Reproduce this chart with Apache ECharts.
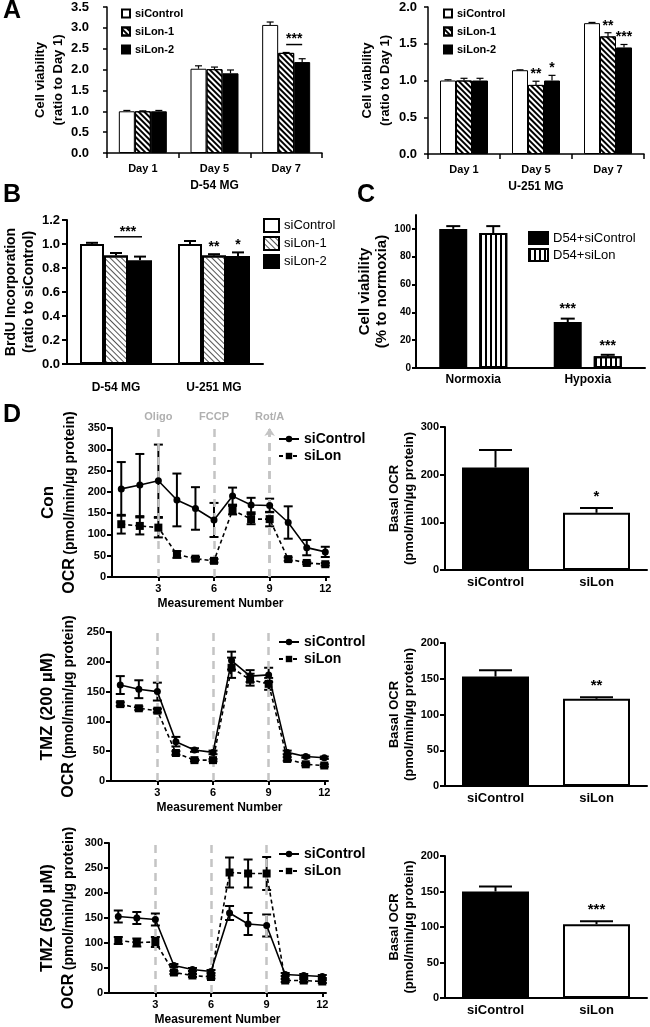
<!DOCTYPE html>
<html><head><meta charset="utf-8">
<script src="https://cdn.jsdelivr.net/npm/echarts@6/dist/echarts.min.js"></script>
<style>html,body{margin:0;padding:0;background:#fff}#c{width:650px;height:1027px}</style>
</head><body><div id="c"></div><script>
// ---------------- DATA ----------------
// Panel A
const daysA = ['Day 1', 'Day 5', 'Day 7'];
const d54Ctrl = [1.00, 2.02, 3.07];
const d54CtrlErr = [0.02, 0.07, 0.07];
const d54Lon1 = [1.00, 2.01, 2.40];
const d54Lon1Err = [0.01, 0.05, 0.01];
const d54Lon2 = [1.00, 1.91, 2.18];
const d54Lon2Err = [0.02, 0.08, 0.08];
const d54Bracket = [2, 2.6, '***'];          // category, level, label
const u251Ctrl = [1.00, 1.14, 1.78];
const u251CtrlErr = [0.01, 0.005, 0.01];
const u251Lon1 = [1.00, 0.94, 1.60];
const u251Lon1Err = [0.03, 0.05, 0.05];
const u251Lon1Sig = ['', '**', '**'];
const u251Lon2 = [1.00, 1.00, 1.45];
const u251Lon2Err = [0.03, 0.07, 0.04];
const u251Lon2Sig = ['', '*', '***'];
// Panel B
const cellsB = ['D-54 MG', 'U-251 MG'];
const brduCtrl = [1.00, 1.00];
const brduCtrlErr = [0.01, 0.025];
const brduLon1 = [0.905, 0.905];
const brduLon1Err = [0.02, 0.01];
const brduLon1Sig = ['', '**'];
const brduLon2 = [0.865, 0.90];
const brduLon2Err = [0.03, 0.03];
const brduLon2Sig = ['', '*'];
const brduBracket = [0, 1.06, '***'];
// Panel C
const condC = ['Normoxia', 'Hypoxia'];
const hypCtrl = [100, 33];
const hypCtrlErr = [2, 2.5];
const hypCtrlSig = ['', '***'];
const hypLon = [97, 8.5];
const hypLonErr = [5, 1];
const hypLonSig = ['', '***'];
// Panel D
const measure = [1, 2, 3, 4, 5, 6, 7, 8, 9, 10, 11, 12];
const injX = [3, 6, 9];
const injNames = ['Oligo', 'FCCP', 'Rot/A'];
const xTicksD = [3, 6, 9, 12];
const conCtrl = [207, 216, 226, 181, 161, 134, 190, 169, 168, 128, 69, 59];
const conCtrlErr = [63, 73, 85, 62, 50, 40, 20, 17, 16, 38, 18, 12];
const conLon = [124, 120, 116, 53, 43, 38, 157, 136, 136, 42, 33, 30];
const conLonErr = [22, 20, 23, 8, 4, 4, 10, 12, 17, 4, 3, 3];
const t200Ctrl = [161, 154, 150, 66, 52, 48, 202, 176, 178, 48, 41, 39];
const t200CtrlErr = [15, 15, 15, 8, 3, 3, 15, 10, 12, 3, 2, 2];
const t200Lon = [129, 122, 118, 47, 35, 35, 190, 170, 163, 37, 28, 26];
const t200LonErr = [3, 3, 3, 3, 2, 2, 17, 10, 10, 3, 2, 2];
const t500Ctrl = [153, 150, 147, 55, 47, 43, 160, 138, 135, 37, 35, 33];
const t500CtrlErr = [12, 12, 12, 3, 3, 3, 14, 22, 22, 3, 3, 3];
const t500Lon = [105, 101, 102, 41, 35, 32, 241, 239, 239, 25, 25, 23];
const t500LonErr = [7, 8, 10, 3, 3, 3, 30, 28, 33, 3, 3, 3];
const basalCats = ['siControl', 'siLon'];
const basalCon = [215, 120];
const basalConErr = [37, 10];
const basalConSig = ['', '*'];
const basalT200 = [153, 122];
const basalT200Err = [9, 2];
const basalT200Sig = ['', '**'];
const basalT500 = [150, 104];
const basalT500Err = [7, 4];
const basalT500Sig = ['', '***'];

// ---------------- HELPERS ----------------
const F = '"Liberation Sans", Arial, Helvetica, sans-serif';
const B = {fontWeight: 'bold', fontFamily: F, color: '#000'};
const strip = n => n.split('|')[1];
const HATCH_A = {symbol: 'rect', symbolSize: 1, color: '#000', dashArrayX: [1, 0], dashArrayY: [1.4, 1.6], rotation: Math.PI / 4};
const HATCH_B = {symbol: 'rect', symbolSize: 1, color: '#555', dashArrayX: [1, 0], dashArrayY: [1, 2.2], rotation: Math.PI / 4};
const VSTRIPE = {symbol: 'rect', symbolSize: 1, color: '#000', dashArrayX: [2, 2.2], dashArrayY: [1, 0], rotation: 0};

function barErr(g, vals, errs, off, cap, lw, sigs, sigSize, sigGap) {
  return {
    type: 'custom', xAxisIndex: g, yAxisIndex: g, z: 10, silent: true,
    data: vals.map((v, i) => [i, v, errs[i]]),
    encode: {x: 0, y: 1},
    renderItem(params, api) {
      const i = api.value(0), v = api.value(1), e = api.value(2);
      const b = api.coord([i, v]), t = api.coord([i, v + e]);
      const x = b[0] + off;
      const ch = [];
      if (e > 0) {
        ch.push({type: 'line', shape: {x1: x, y1: b[1], x2: x, y2: t[1]}, style: {stroke: '#000', lineWidth: lw}});
        ch.push({type: 'line', shape: {x1: x - cap / 2, y1: t[1], x2: x + cap / 2, y2: t[1]}, style: {stroke: '#000', lineWidth: lw}});
      }
      const s = sigs ? sigs[params.dataIndex] : '';
      if (s) ch.push({type: 'text', x: x, y: t[1] - sigGap, style: {text: s, fontSize: sigSize, fontWeight: 'bold', fontFamily: F, fill: '#000', align: 'center', verticalAlign: 'bottom'}});
      return {type: 'group', children: ch};
    }
  };
}
function bracket(g, br, off1, off2, lw, size) {
  return {
    type: 'custom', xAxisIndex: g, yAxisIndex: g, z: 10, silent: true,
    data: [[br[0], br[1]]], encode: {x: 0, y: 1},
    renderItem(params, api) {
      const p = api.coord([api.value(0), api.value(1)]);
      return {type: 'group', children: [
        {type: 'line', shape: {x1: p[0] + off1, y1: p[1], x2: p[0] + off2, y2: p[1]}, style: {stroke: '#000', lineWidth: lw}},
        {type: 'text', x: p[0] + (off1 + off2) / 2, y: p[1] + 2, style: {text: br[2], fontSize: size, fontWeight: 'bold', fontFamily: F, fill: '#000', align: 'center', verticalAlign: 'bottom'}}
      ]};
    }
  };
}
function lineErr(g, vals, errs, cap) {
  return {
    type: 'custom', xAxisIndex: g, yAxisIndex: g, z: 4, silent: true,
    data: measure.map((m, i) => [m, vals[i], errs[i]]), encode: {x: 0, y: 1},
    renderItem(params, api) {
      const x = api.value(0), v = api.value(1), e = api.value(2);
      const lo = api.coord([x, v - e]), hi = api.coord([x, v + e]);
      const s = {stroke: '#000', lineWidth: 2};
      return {type: 'group', children: [
        {type: 'line', shape: {x1: lo[0], y1: lo[1], x2: hi[0], y2: hi[1]}, style: s},
        {type: 'line', shape: {x1: lo[0] - cap / 2, y1: lo[1], x2: lo[0] + cap / 2, y2: lo[1]}, style: s},
        {type: 'line', shape: {x1: hi[0] - cap / 2, y1: hi[1], x2: hi[0] + cap / 2, y2: hi[1]}, style: s}
      ]};
    }
  };
}
function lineSeries(g, name, vals, dashed, mark) {
  const s = {
    type: 'line', name: name, xAxisIndex: g, yAxisIndex: g, z: 5,
    data: measure.map((m, i) => [m, vals[i]]),
    symbol: dashed ? 'rect' : 'circle', symbolSize: dashed ? 8 : 7,
    itemStyle: {color: '#000'},
    lineStyle: {color: '#000', width: 1.6, type: dashed ? [4, 3] : 'solid'}
  };
  if (mark) s.markLine = mark;
  return s;
}
const dashLine = {color: '#c4c4c4', type: [8, 6], width: 2.5};
function injMark(withLabels) {
  return {
    silent: true, symbol: ['none', 'none'], lineStyle: dashLine,
    label: withLabels ? {show: true, position: 'end', formatter: '{b}', color: '#b0b0b0', fontSize: 11, fontWeight: 'bold', fontFamily: F, distance: 6} : {show: false},
    data: injX.map((x, i) => ({xAxis: x, name: injNames[i]}))
  };
}
function catX(g, data, o) {
  return Object.assign({
    type: 'category', gridIndex: g, data: data,
    axisLine: {lineStyle: {color: '#000', width: 2}},
    axisTick: {show: false},
    axisLabel: Object.assign({fontSize: 13, margin: 6}, B)
  }, o);
}
function valY(g, max, interval, o) {
  return Object.assign({
    type: 'value', gridIndex: g, min: 0, max: max, interval: interval,
    splitLine: {show: false},
    axisLine: {show: true, lineStyle: {color: '#000', width: 2}},
    axisTick: {show: true, length: 5, lineStyle: {color: '#000', width: 2}},
    axisLabel: Object.assign({fontSize: 11, margin: 6}, B),
    nameLocation: 'middle', nameRotate: 90
  }, o);
}
function lineX(g) {
  return {
    type: 'value', gridIndex: g, min: 0.5, max: 12.2,
    splitLine: {show: false},
    axisLine: {lineStyle: {color: '#000', width: 2}},
    axisTick: {show: true, length: 4, customValues: xTicksD, lineStyle: {color: '#000', width: 2}},
    axisLabel: Object.assign({fontSize: 11, margin: 6, customValues: xTicksD}, B),
    name: 'Measurement Number', nameLocation: 'middle', nameGap: 21,
    nameTextStyle: Object.assign({fontSize: 12}, B)
  };
}
const ocrName = t => '{t|' + t + '}\n{o|OCR} {p|(pmol/min/µg protein)}';
const ocrRich = {rich: {
  t: {fontSize: 17, fontWeight: 'bold', fontFamily: F, lineHeight: 26, color: '#000'},
  o: {fontSize: 16, fontWeight: 'bold', fontFamily: F, lineHeight: 18, color: '#000'},
  p: {fontSize: 14, fontWeight: 'bold', fontFamily: F, lineHeight: 18, color: '#000'}
}};
const basalNameStyle = Object.assign({fontSize: 13, lineHeight: 15}, B);
function basalBars(g, name, vals) {
  return {
    type: 'bar', name: name, xAxisIndex: g, yAxisIndex: g, barWidth: 67,
    data: vals.map((v, i) => ({value: v, itemStyle: {color: i === 0 ? '#000' : '#fff', borderColor: '#000', borderWidth: 2}}))
  };
}
function dLegend(pfx, top) {
  return {data: [pfx + '|siControl', pfx + '|siLon'], left: 278, top: top, orient: 'vertical', padding: 0,
    itemWidth: 20, itemHeight: 8, itemGap: 3, formatter: strip, selectedMode: false,
    textStyle: Object.assign({fontSize: 14}, B)};
}
function aLegend(pfx, left) {
  return {data: [pfx + '|siControl', pfx + '|siLon-1', pfx + '|siLon-2'], left: left, top: 8, orient: 'vertical', padding: 0,
    itemWidth: 8, itemHeight: 8, itemGap: 7, formatter: strip, selectedMode: false, icon: 'rect',
    textStyle: Object.assign({fontSize: 11}, B)};
}
function aBars(g, pfx, c, l1, l2) {
  const base = {type: 'bar', xAxisIndex: g, yAxisIndex: g, barWidth: 16, barGap: '0%'};
  return [
    Object.assign({name: pfx + '|siControl', data: c, itemStyle: {color: '#fff', borderColor: '#000', borderWidth: 1}}, base),
    Object.assign({name: pfx + '|siLon-1', data: l1, itemStyle: {color: '#fff', borderColor: '#000', borderWidth: 1, decal: HATCH_A}}, base),
    Object.assign({name: pfx + '|siLon-2', data: l2, itemStyle: {color: '#000', borderColor: '#000', borderWidth: 1}}, base)
  ];
}
const aX = (g, name) => ({
  type: 'category', gridIndex: g, data: daysA,
  axisLine: {lineStyle: {color: '#000', width: 1.5}},
  axisTick: {show: true, length: 5, lineStyle: {color: '#000', width: 1.5}},
  axisLabel: Object.assign({fontSize: 11, margin: 10}, B),
  name: name, nameLocation: 'middle', nameGap: 27, nameTextStyle: Object.assign({fontSize: 12}, B)
});
const aY = (g, max, gap, margin) => valY(g, max, 0.5, {
  axisLine: {show: true, lineStyle: {color: '#000', width: 1.5}},
  axisTick: {show: true, length: 4, lineStyle: {color: '#000', width: 1.5}},
  axisLabel: Object.assign({fontSize: 13, margin: margin, formatter: v => v.toFixed(1)}, B),
  name: 'Cell viability\n(ratio to Day 1)', nameGap: gap, nameTextStyle: Object.assign({fontSize: 13, lineHeight: 18}, B)
});

const option = {
  animation: false,
  backgroundColor: '#fff',
  grid: [
    {left: 107, top: 7, width: 215, height: 146},
    {left: 428, top: 7, width: 216, height: 147},
    {left: 67, top: 220, width: 196, height: 144},
    {left: 416, top: 215, width: 229, height: 153},
    {left: 112, top: 428, width: 217, height: 149},
    {left: 445, top: 427, width: 202, height: 143},
    {left: 111, top: 632, width: 217, height: 149},
    {left: 445, top: 643, width: 202, height: 143},
    {left: 109, top: 843, width: 217, height: 150},
    {left: 445, top: 856, width: 202, height: 142}
  ],
  xAxis: [
    aX(0, 'D-54 MG'),
    aX(1, 'U-251 MG'),
    catX(2, cellsB, {axisLabel: Object.assign({fontSize: 12, margin: 18}, B)}),
    catX(3, condC, {axisLabel: Object.assign({fontSize: 12, margin: 6}, B)}),
    lineX(4), catX(5, basalCats),
    lineX(6), catX(7, basalCats),
    lineX(8), catX(9, basalCats)
  ],
  yAxis: [
    aY(0, 3.5, 36, 18),
    aY(1, 2.0, 34, 11),
    valY(2, 1.2, 0.2, {axisLabel: Object.assign({fontSize: 13, margin: 7, formatter: v => v.toFixed(1)}, B),
      name: 'BrdU Incorporation\n(ratio to siControl)', nameGap: 18, nameTextStyle: Object.assign({fontSize: 14, lineHeight: 18}, B)}),
    valY(3, 110, 20, {axisLabel: Object.assign({fontSize: 10, margin: 5, customValues: [0, 20, 40, 60, 80, 100]}, B),
      axisTick: {show: true, length: 4, customValues: [0, 20, 40, 60, 80, 100], lineStyle: {color: '#000', width: 2}},
      name: 'Cell viability\n(% to normoxia)', nameGap: 17, nameTextStyle: Object.assign({fontSize: 15, lineHeight: 17}, B)}),
    valY(4, 350, 50, {name: ocrName('Con'), nameGap: 33, nameTextStyle: ocrRich}),
    valY(5, 300, 100, {name: 'Basal OCR\n(pmol/min/µg protein)', nameGap: 25, nameTextStyle: basalNameStyle}),
    valY(6, 250, 50, {name: ocrName('TMZ (200 µM)'), nameGap: 33, nameTextStyle: ocrRich}),
    valY(7, 200, 50, {name: 'Basal OCR\n(pmol/min/µg protein)', nameGap: 25, nameTextStyle: basalNameStyle}),
    valY(8, 300, 50, {name: ocrName('TMZ (500 µM)'), nameGap: 31, nameTextStyle: ocrRich}),
    valY(9, 200, 50, {name: 'Basal OCR\n(pmol/min/µg protein)', nameGap: 25, nameTextStyle: basalNameStyle})
  ],
  legend: [
    aLegend('a1', 121),
    aLegend('a2', 443),
    {data: ['b|siControl', 'b|siLon-1', 'b|siLon-2'], left: 263, top: 218, orient: 'vertical', padding: 0,
      itemWidth: 15, itemHeight: 13, itemGap: 3, formatter: strip, selectedMode: false, icon: 'rect',
      textStyle: {fontSize: 13, fontFamily: F, color: '#000'}},
    {data: ['c|D54+siControl', 'c|D54+siLon'], left: 528, top: 231, orient: 'vertical', padding: 0,
      itemWidth: 19, itemHeight: 12, itemGap: 3, formatter: strip, selectedMode: false, icon: 'rect',
      textStyle: {fontSize: 13, fontFamily: F, color: '#000'}},
    dLegend('d1', 432),
    dLegend('d2', 635),
    dLegend('d3', 847)
  ],
  series: [
    ...aBars(0, 'a1', d54Ctrl, d54Lon1, d54Lon2),
    barErr(0, d54Ctrl, d54CtrlErr, -16, 7, 1.2),
    barErr(0, d54Lon1, d54Lon1Err, 0, 7, 1.2),
    barErr(0, d54Lon2, d54Lon2Err, 16, 7, 1.2),
    bracket(0, d54Bracket, 0, 16, 1.5, 14),
    ...aBars(1, 'a2', u251Ctrl, u251Lon1, u251Lon2),
    barErr(1, u251Ctrl, u251CtrlErr, -16, 7, 1.2),
    barErr(1, u251Lon1, u251Lon1Err, 0, 7, 1.2, u251Lon1Sig, 14, 0),
    barErr(1, u251Lon2, u251Lon2Err, 16, 7, 1.2, u251Lon2Sig, 14, 0),
    // B
    {type: 'bar', name: 'b|siControl', xAxisIndex: 2, yAxisIndex: 2, barWidth: 24, barGap: '0%', data: brduCtrl,
      itemStyle: {color: '#fff', borderColor: '#000', borderWidth: 2}},
    {type: 'bar', name: 'b|siLon-1', xAxisIndex: 2, yAxisIndex: 2, barWidth: 24, barGap: '0%', data: brduLon1,
      itemStyle: {color: '#fff', borderColor: '#000', borderWidth: 2, decal: HATCH_B}},
    {type: 'bar', name: 'b|siLon-2', xAxisIndex: 2, yAxisIndex: 2, barWidth: 24, barGap: '0%', data: brduLon2,
      itemStyle: {color: '#000', borderColor: '#000', borderWidth: 2}},
    barErr(2, brduCtrl, brduCtrlErr, -24, 12, 2),
    barErr(2, brduLon1, brduLon1Err, 0, 12, 2, brduLon1Sig, 14, 0),
    barErr(2, brduLon2, brduLon2Err, 24, 12, 2, brduLon2Sig, 14, 0),
    bracket(2, brduBracket, -2, 26, 1.5, 14),
    // C
    {type: 'bar', name: 'c|D54+siControl', xAxisIndex: 3, yAxisIndex: 3, barWidth: 28, barGap: '43%', data: hypCtrl,
      itemStyle: {color: '#000', borderColor: '#000', borderWidth: 2}},
    {type: 'bar', name: 'c|D54+siLon', xAxisIndex: 3, yAxisIndex: 3, barWidth: 28, barGap: '43%', data: hypLon,
      itemStyle: {color: '#fff', borderColor: '#000', borderWidth: 2, decal: VSTRIPE}},
    barErr(3, hypCtrl, hypCtrlErr, -20, 14, 2, hypCtrlSig, 14, 2),
    barErr(3, hypLon, hypLonErr, 20, 14, 2, hypLonSig, 14, 2),
    // D row 1
    lineErr(4, conCtrl, conCtrlErr, 9),
    lineErr(4, conLon, conLonErr, 9),
    lineSeries(4, 'd1|siControl', conCtrl, false, injMark(true)),
    lineSeries(4, 'd1|siLon', conLon, true, {silent: true, symbol: ['none', 'arrow'], symbolSize: 8,
      lineStyle: dashLine, itemStyle: {color: '#c4c4c4'}, label: {show: false}, data: [{xAxis: injX[2]}]}),
    basalBars(5, 'd1b', basalCon),
    barErr(5, basalCon, basalConErr, 0, 33, 2, basalConSig, 15, 4),
    // D row 2
    lineErr(6, t200Ctrl, t200CtrlErr, 9),
    lineErr(6, t200Lon, t200LonErr, 9),
    lineSeries(6, 'd2|siControl', t200Ctrl, false, injMark(false)),
    lineSeries(6, 'd2|siLon', t200Lon, true),
    basalBars(7, 'd2b', basalT200),
    barErr(7, basalT200, basalT200Err, 0, 33, 2, basalT200Sig, 15, 4),
    // D row 3
    lineErr(8, t500Ctrl, t500CtrlErr, 9),
    lineErr(8, t500Lon, t500LonErr, 9),
    lineSeries(8, 'd3|siControl', t500Ctrl, false, injMark(false)),
    lineSeries(8, 'd3|siLon', t500Lon, true),
    basalBars(9, 'd3b', basalT500),
    barErr(9, basalT500, basalT500Err, 0, 33, 2, basalT500Sig, 15, 4)
  ],
  graphic: [
    {type: 'text', left: 3, top: -1, style: {text: 'A', font: 'bold 25px ' + F, fill: '#000'}},
    {type: 'text', left: 3, top: 183, style: {text: 'B', font: 'bold 25px ' + F, fill: '#000'}},
    {type: 'text', left: 357, top: 183, style: {text: 'C', font: 'bold 25px ' + F, fill: '#000'}},
    {type: 'text', left: 3, top: 403, style: {text: 'D', font: 'bold 25px ' + F, fill: '#000'}}
  ]
};
const chart = echarts.init(document.getElementById('c'), null, {renderer: 'canvas'});
chart.setOption(option);
</script></body></html>
